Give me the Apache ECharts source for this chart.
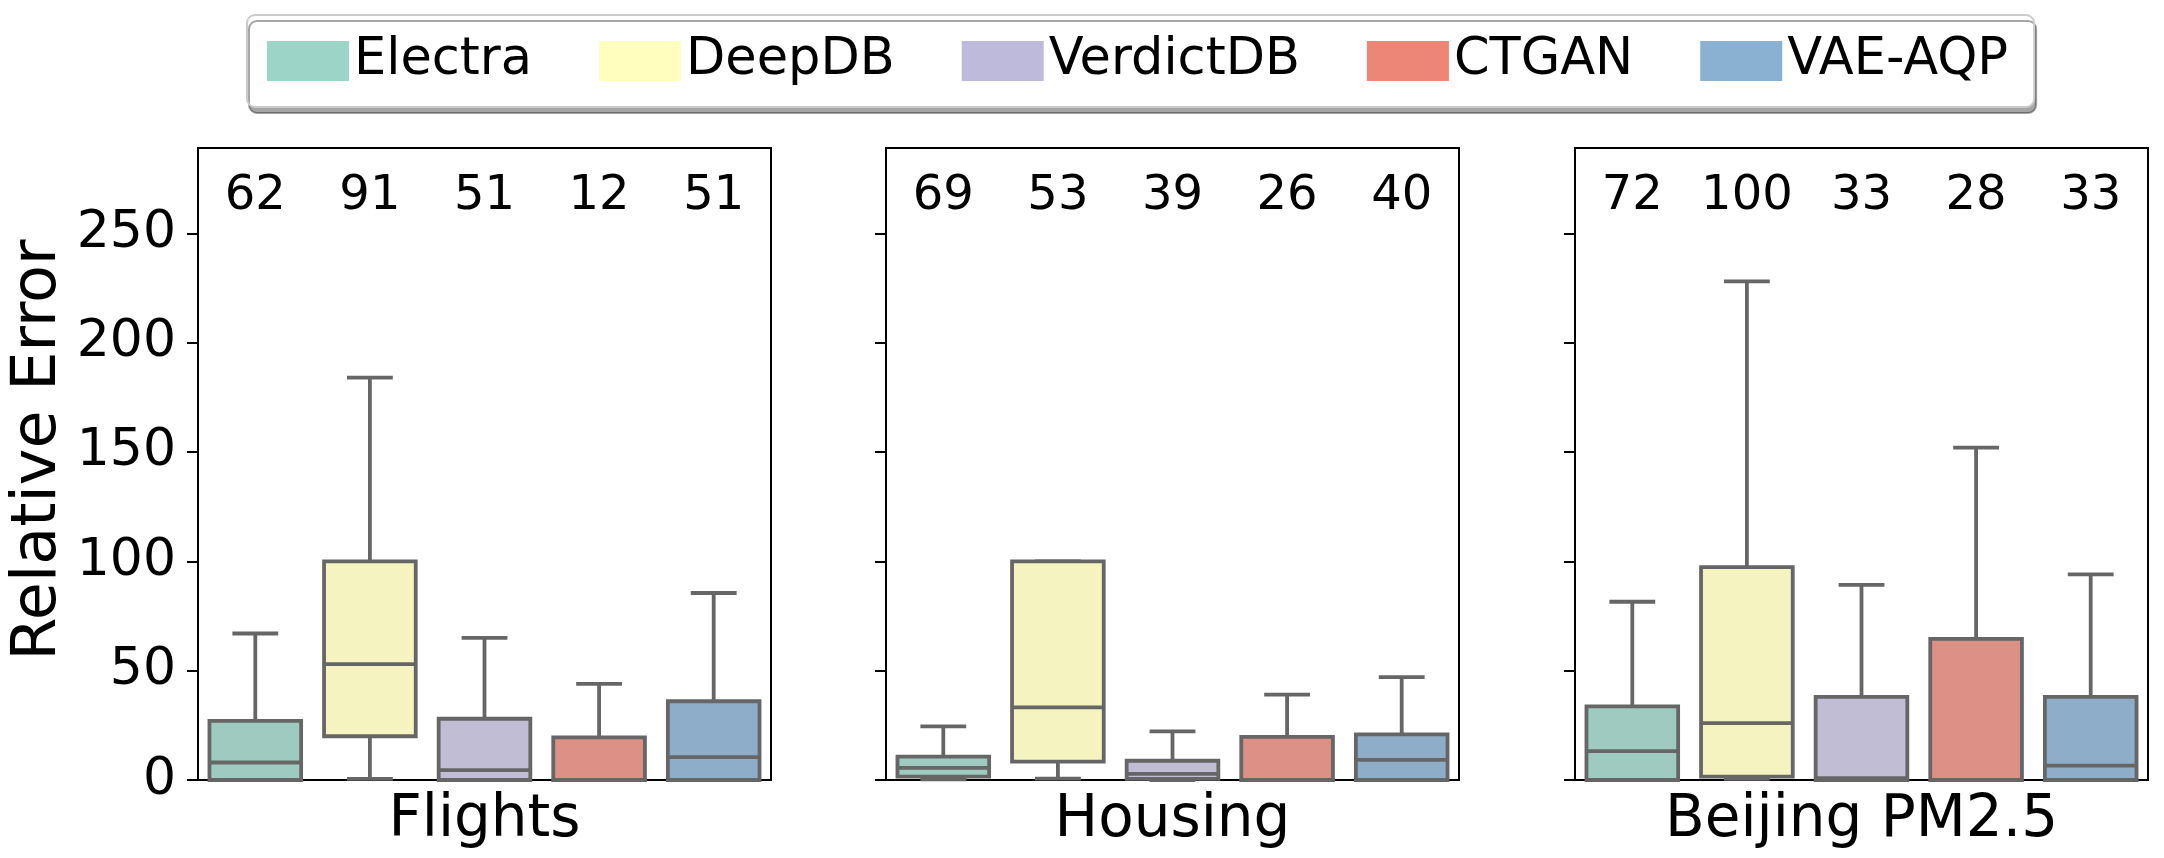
<!DOCTYPE html>
<html>
<head>
<meta charset="utf-8">
<script src="https://cdn.jsdelivr.net/npm/echarts@6/dist/echarts.min.js"></script>
<style>
  html, body { margin: 0; padding: 0; background: #fff; }
  #chart { width: 2164px; height: 858px; }
</style>
</head>
<body>
<div id="chart"></div>
<script>
// methods and datasets
var methods = ['Electra', 'DeepDB', 'VerdictDB', 'CTGAN', 'VAE-AQP']
var datasets = ['Flights', 'Housing', 'Beijing PM2.5']

// box stats per method: [low, q1, median, q3, high]
var flights = [
  [0, 0, 8, 27, 67],
  [0.5, 20, 53, 100, 184],
  [0, 0, 4.5, 28, 65],
  [0, 0, 0, 19.5, 44],
  [0, 0, 10.5, 36, 85.5]
]
var housing = [
  [0.3, 1.5, 5.5, 10.7, 24.5],
  [0.6, 8.4, 33.2, 100, 100],
  [0, 0.5, 2.8, 8.8, 22.2],
  [0, 0, 0, 19.7, 39],
  [0, 0, 9.2, 20.9, 47]
]
var beijing = [
  [0, 0, 13.2, 33.7, 81.5],
  [0.5, 1.5, 26, 97.3, 228],
  [0, 0, 0.8, 38, 89.2],
  [0, 0, 0, 64.5, 152],
  [0, 0, 6.6, 38, 94]
]
var boxStats = [flights, housing, beijing]

// numbers printed above the boxes
var flightsCounts = [62, 91, 51, 12, 51]
var housingCounts = [69, 53, 39, 26, 40]
var beijingCounts = [72, 100, 33, 28, 33]
var counts = [flightsCounts, housingCounts, beijingCounts]

var yTicks = [0, 50, 100, 150, 200, 250]
var yMax = 289
var countY = 267

var boxColors = ['#9fcac0', '#f5f4c0', '#c0bdd4', '#dc9086', '#8eadc8']
var legendColors = ['#9dd4c8', '#fffebf', '#bebadb', '#ee8677', '#8ab1d2']
var edge = '#666666'
var font = 'DejaVu Sans'

var gridLefts = [198, 886, 1575]

function renderBox (params, api) {
  var x = api.value(0)
  var low = api.value(1)
  var q1 = api.value(2)
  var med = api.value(3)
  var q3 = api.value(4)
  var high = api.value(5)
  var band = api.size([1, 0])[0]
  var bw = band * 0.8
  var cw = band * 0.4
  var cx = api.coord([x, 0])[0]
  var y = function (v) { return api.coord([x, v])[1] }
  var ls = { stroke: edge, lineWidth: 3.8 }
  var fill = boxColors[x]
  return {
    type: 'group',
    children: [
      { type: 'line', shape: { x1: cx, y1: y(q3), x2: cx, y2: y(high) }, style: ls },
      { type: 'line', shape: { x1: cx, y1: y(q1), x2: cx, y2: y(low) }, style: ls },
      { type: 'line', shape: { x1: cx - cw / 2, y1: y(high), x2: cx + cw / 2, y2: y(high) }, style: ls },
      { type: 'line', shape: { x1: cx - cw / 2, y1: y(low), x2: cx + cw / 2, y2: y(low) }, style: ls },
      {
        type: 'rect',
        shape: { x: cx - bw / 2, y: y(q3), width: bw, height: y(q1) - y(q3) },
        style: { fill: fill, stroke: edge, lineWidth: 3.8 }
      },
      { type: 'line', shape: { x1: cx - bw / 2, y1: y(med), x2: cx + bw / 2, y2: y(med) }, style: ls },
      {
        type: 'text',
        x: cx,
        y: y(countY),
        style: {
          text: String(api.value(6)),
          fontSize: 48,
          fontFamily: font,
          fill: '#000',
          align: 'center',
          verticalAlign: 'middle'
        }
      }
    ]
  }
}

var grids = []
var xAxes = []
var yAxes = []
var series = []

datasets.forEach(function (name, g) {
  grids.push({
    left: gridLefts[g], top: 148, width: 573, height: 632,
    show: true, borderColor: '#000', borderWidth: 2, backgroundColor: 'transparent'
  })
  xAxes.push({
    gridIndex: g,
    type: 'category',
    data: methods,
    boundaryGap: true,
    axisLine: { show: true, lineStyle: { color: '#000', width: 2 } },
    axisTick: { show: false },
    axisLabel: { show: false },
    name: name,
    nameLocation: 'middle',
    nameGap: 12,
    nameTextStyle: { fontSize: 58, fontFamily: font, color: '#000', verticalAlign: 'top' }
  })
  yAxes.push({
    gridIndex: g,
    type: 'value',
    min: 0,
    max: yMax,
    interval: 50,
    splitLine: { show: false },
    axisLine: { show: true, lineStyle: { color: '#000', width: 2 } },
    axisTick: { show: true, length: 11, lineStyle: { color: '#000', width: 2 }, customValues: yTicks },
    axisLabel: {
      show: g === 0,
      customValues: yTicks,
      margin: 22,
      fontSize: 52,
      fontFamily: font,
      color: '#000'
    },
    name: g === 0 ? 'Relative Error' : '',
    nameLocation: 'middle',
    nameRotate: 90,
    nameGap: 128,
    nameTextStyle: { fontSize: 62, fontFamily: font, color: '#000', padding: [0, 0, 0, 28] }
  })
  methods.forEach(function (m, i) {
    var s = boxStats[g][i]
    series.push({
      type: 'custom',
      name: m,
      xAxisIndex: g,
      yAxisIndex: g,
      itemStyle: { color: legendColors[i] },
      renderItem: renderBox,
      encode: { x: 0, y: [1, 2, 3, 4, 5] },
      data: [[i, s[0], s[1], s[2], s[3], s[4], counts[g][i]]],
      silent: true,
      animation: false
    })
  })
})

var chart = echarts.init(document.getElementById('chart'))
chart.setOption({
  backgroundColor: '#fff',
  animation: false,
  legend: {
    left: 247,
    top: 15,
    icon: 'rect',
    itemWidth: 82,
    itemHeight: 40,
    itemGap: 67,
    padding: [20, 26, 20, 20],
    backgroundColor: '#fff',
    borderColor: '#cccccc',
    borderWidth: 2,
    borderRadius: 8,
    shadowColor: 'rgba(0,0,0,0.35)',
    shadowOffsetX: 2,
    shadowOffsetY: 6,
    shadowBlur: 0,
    textStyle: { fontSize: 51, lineHeight: 52, fontFamily: font, color: '#000' },
    data: methods.map(function (m, i) {
      return { name: m, itemStyle: { color: legendColors[i] } }
    })
  },
  grid: grids,
  xAxis: xAxes,
  yAxis: yAxes,
  series: series
})
</script>
</body>
</html>
